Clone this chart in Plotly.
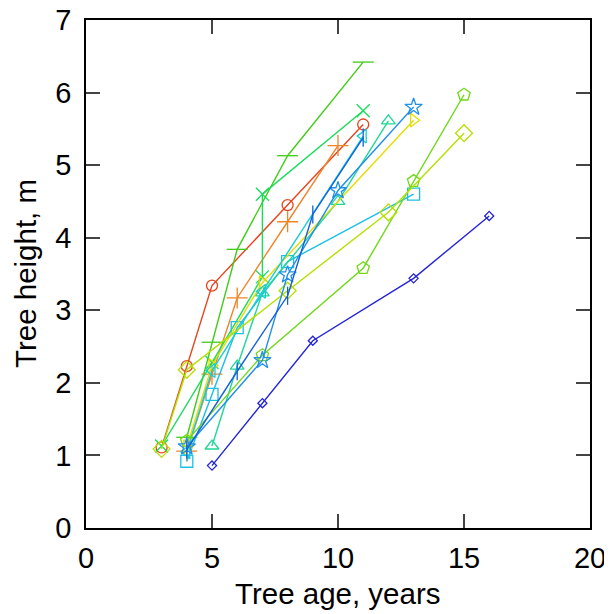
import plotly.graph_objects as go

# Each tree: ages (years), heights (m)
age_o = [3, 4, 5, 8, 11]
h_o = [1.11, 2.23, 3.34, 4.45, 5.56]
age_plus = [4, 5, 6, 8, 10]
h_plus = [1.06, 2.12, 3.17, 4.22, 5.27]
age_bar = [4, 5, 6, 8, 11]
h_bar = [1.25, 2.56, 3.84, 5.13, 6.42]
age_x = [3, 5, 7, 7, 11]
h_x = [1.13, 2.28, 3.46, 4.6, 5.75]
age_sq = [4, 5, 6, 8, 13]
h_sq = [0.92, 1.84, 2.76, 3.67, 4.6]
age_dm = [5, 7, 9, 13, 16]
h_dm = [0.86, 1.72, 2.58, 3.44, 4.3]
age_tu = [5, 6, 7, 10, 12]
h_tu = [1.13, 2.23, 3.24, 4.5, 5.61]
age_tr = [4, 5, 7, 13]
h_tr = [1.12, 2.24, 3.38, 5.62]
age_tl = [4, 5, 7, 11]
h_tl = [1.05, 2.17, 3.26, 5.4]
age_pg = [4, 7, 11, 13, 15]
h_pg = [1.2, 2.38, 3.58, 4.78, 5.97]
age_dl = [3, 4, 8, 12, 15]
h_dl = [1.09, 2.18, 3.27, 4.35, 5.44]
age_hx = [4, 7, 8, 10, 13]
h_hx = [1.12, 2.31, 3.49, 4.65, 5.8]
age_vb = [4, 6, 8, 9, 11]
h_vb = [1.08, 2.16, 3.2, 4.32, 5.38]

x_ticks = [0, 5, 10, 15, 20]
y_ticks = [0, 1, 2, 3, 4, 5, 6, 7]
x_title = "Tree age, years"
y_title = "Tree height, m"

series = [
    (age_o, h_o, "circle-open", "#e8441e", 11),
    (age_plus, h_plus, "cross-thin-open", "#f08428", 15),
    (age_bar, h_bar, "line-ew-open", "#40cc18", 15),
    (age_x, h_x, "x-thin-open", "#18dc5a", 13),
    (age_sq, h_sq, "square-open", "#1cc0e6", 12),
    (age_dm, h_dm, "diamond-open", "#2424dc", 7),
    (age_tu, h_tu, "triangle-up-open", "#20d896", 12),
    (age_tr, h_tr, "triangle-right-open", "#e6dc00", 12),
    (age_tl, h_tl, "triangle-left-open", "#18ccd8", 12),
    (age_pg, h_pg, "pentagon-open", "#70d818", 13),
    (age_dl, h_dl, "diamond-open", "#b4e000", 13),
    (age_hx, h_hx, "star-open", "#2090ea", 13),
    (age_vb, h_vb, "line-ns-open", "#1460dc", 13),
]

fig = go.Figure()
for ax, hy, sym, col, sz in series:
    fig.add_trace(go.Scatter(
        x=ax, y=hy, mode="lines+markers",
        line=dict(color=col, width=1.4),
        marker=dict(symbol=sym, size=sz, color=col, line=dict(color=col, width=1.3)),
        showlegend=False,
    ))

font_family = "Arial, Liberation Sans, sans-serif"
fig.update_layout(
    width=604, height=606,
    margin=dict(l=78, r=22, t=12, b=86),
    paper_bgcolor="white", plot_bgcolor="white",
    font=dict(family=font_family, color="black", size=29),
)
common = dict(ticks="inside", ticklen=14, tickwidth=1.5,
              showline=True, linewidth=1.8, linecolor="black", mirror="ticks",
              showgrid=False, zeroline=False, automargin=False,
              ticklabeloverflow="allow",
              tickfont=dict(size=29, family=font_family, color="black"))
fig.update_xaxes(range=[0, 20], tickvals=x_ticks, ticklabelstandoff=3, **common)
fig.update_yaxes(range=[0, 7], tickvals=y_ticks, ticklabelstandoff=7, **common)

fig.add_annotation(text=x_title, xref="paper", yref="paper", x=0.5, y=-0.128,
                   xanchor="center", yanchor="middle", showarrow=False,
                   font=dict(size=29.5, family=font_family, color="black"))
fig.add_annotation(text=y_title, xref="paper", yref="paper", x=-0.121, y=0.5,
                   xanchor="center", yanchor="middle", showarrow=False, textangle=-90,
                   font=dict(size=29.5, family=font_family, color="black"))
fig.write_html("out.html")
